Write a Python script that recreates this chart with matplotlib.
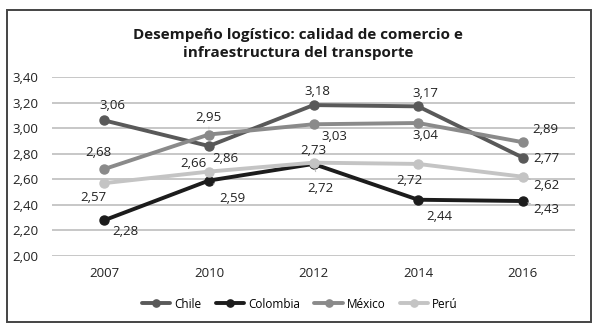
import matplotlib.pyplot as plt
from matplotlib.patches import Rectangle

plt.rcParams['font.family'] = ['Open Sans', 'DejaVu Sans']

years = ['2007', '2010', '2012', '2014', '2016']
chile = [3.06, 2.86, 3.18, 3.17, 2.77]
colombia = [2.28, 2.59, 2.72, 2.44, 2.43]
mexico = [2.68, 2.95, 3.03, 3.04, 2.89]
peru = [2.57, 2.66, 2.73, 2.72, 2.62]
yticks = [2.0, 2.2, 2.4, 2.6, 2.8, 3.0, 3.2, 3.4]

series = [
    ('Chile', chile, '#595959'),
    ('Colombia', colombia, '#1c1c1c'),
    ('México', mexico, '#8a8a8a'),
    ('Perú', peru, '#c4c4c4'),
]

# label offsets in points (dx, dy) and whether a leader line is drawn
offsets = {
    'Chile': [(6, 11, 0), (12, -9, 0), (3, 10, 0), (5, 9, 0), (17, -1, 0)],
    'Colombia': [(15, -8, 0), (17, -13, 1), (5, -18, 1), (15, -12, 0), (17, -6, 1)],
    'México': [(-4, 12, 0), (0, 12, 1), (15, -9, 0), (5, -9, 0), (16, 9, 0)],
    'Perú': [(-8, -10, 0), (-11, 6, 0), (0, 9, 0), (-6, -12, 0), (17, -6, 1)],
}

fig = plt.figure(figsize=(6, 3.36), dpi=100)
ax = fig.add_axes([0.0867, 0.238, 0.8716, 0.533])
x = list(range(len(years)))

for name, vals, col in series:
    ax.plot(x, vals, color=col, lw=2.8, marker='o', ms=6.5, label=name,
            solid_capstyle='round')

for name, vals, col in series:
    for i, v in enumerate(vals):
        dx, dy, lead = offsets[name][i]
        txt = f'{v:.2f}'.replace('.', ',')
        if lead:
            ax.annotate(txt, (i, v), xytext=(dx, dy), textcoords='offset points',
                        ha='center', va='center', fontsize=9.5, color='#222222',
                        arrowprops=dict(arrowstyle='-', color='#bbbbbb', lw=0.8,
                                        shrinkA=6, shrinkB=4))
        else:
            ax.annotate(txt, (i, v), xytext=(dx, dy), textcoords='offset points',
                        ha='center', va='center', fontsize=9.5, color='#222222')

ax.set_xlim(-0.5, len(years) - 0.5)
ax.set_ylim(2.0, 3.4)
ax.set_yticks(yticks)
ax.set_yticklabels([f'{t:.2f}'.replace('.', ',') for t in yticks])
ax.set_xticks(x)
ax.set_xticklabels(years)
ax.grid(axis='y', color='#bdbdbd', lw=1.2)
ax.set_axisbelow(True)
for s in ax.spines.values():
    s.set_visible(False)
ax.tick_params(length=0, labelsize=9.5, colors='#222222')
ax.tick_params(axis='y', pad=10)
ax.tick_params(axis='x', pad=8)

fig.text(0.497, 0.87, 'Desempeño logístico: calidad de comercio e\ninfraestructura del transporte',
         ha='center', va='center', fontsize=11, fontweight='bold', color='#1a1a1a',
         linespacing=1.35)

fig.legend(loc='center', bbox_to_anchor=(0.5, 0.095), ncol=4, frameon=False,
           fontsize=8.5, handlelength=2.4, columnspacing=1.2, handletextpad=0.35,
           markerscale=0.8)

fig.patches.append(Rectangle((0.011, 0.042), 0.974, 0.928, transform=fig.transFigure,
                             fill=False, edgecolor='#444444', lw=1.4))

fig.savefig('out.png', dpi=100)
